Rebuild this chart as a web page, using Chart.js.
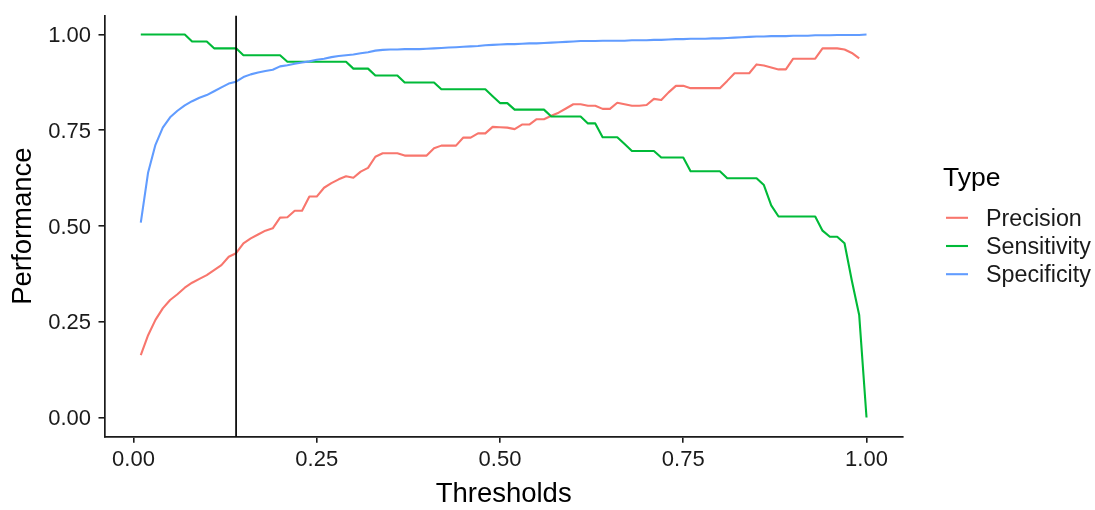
<!DOCTYPE html>
<html>
<head>
<meta charset="utf-8">
<script src="https://cdn.jsdelivr.net/npm/chart.js@4.4.1/dist/chart.umd.min.js"></script>
<style>
    html, body { margin: 0; padding: 0; background: #ffffff; }
</style>
</head>
<body>
<canvas id="perfChart" width="1095" height="510"></canvas>
<script>
// Thresholds on the x axis
const thresholds = [
    0.01, 0.02, 0.03, 0.04, 0.05, 0.06, 0.07, 0.08, 0.09, 0.10,
    0.11, 0.12, 0.13, 0.14, 0.15, 0.16, 0.17, 0.18, 0.19, 0.20,
    0.21, 0.22, 0.23, 0.24, 0.25, 0.26, 0.27, 0.28, 0.29, 0.30,
    0.31, 0.32, 0.33, 0.34, 0.35, 0.36, 0.37, 0.38, 0.39, 0.40,
    0.41, 0.42, 0.43, 0.44, 0.45, 0.46, 0.47, 0.48, 0.49, 0.50,
    0.51, 0.52, 0.53, 0.54, 0.55, 0.56, 0.57, 0.58, 0.59, 0.60,
    0.61, 0.62, 0.63, 0.64, 0.65, 0.66, 0.67, 0.68, 0.69, 0.70,
    0.71, 0.72, 0.73, 0.74, 0.75, 0.76, 0.77, 0.78, 0.79, 0.80,
    0.81, 0.82, 0.83, 0.84, 0.85, 0.86, 0.87, 0.88, 0.89, 0.90,
    0.91, 0.92, 0.93, 0.94, 0.95, 0.96, 0.97, 0.98, 0.99, 1.00,
];

const precision = [
    0.163, 0.215, 0.255, 0.285, 0.307, 0.322, 0.339, 0.352, 0.362, 0.372,
    0.385, 0.398, 0.420, 0.429, 0.455, 0.468, 0.478, 0.488, 0.494, 0.522,
    0.523, 0.540, 0.540, 0.577, 0.577, 0.600, 0.612, 0.622, 0.630, 0.626,
    0.642, 0.652, 0.681, 0.690, 0.690, 0.690, 0.684, 0.684, 0.684, 0.684,
    0.703, 0.710, 0.710, 0.710, 0.731, 0.731, 0.742, 0.742, 0.759, 0.758,
    0.757, 0.753, 0.765, 0.765, 0.779, 0.779, 0.788, 0.796, 0.807, 0.818,
    0.818, 0.814, 0.814, 0.806, 0.806, 0.822, 0.818, 0.814, 0.814, 0.816,
    0.832, 0.829, 0.849, 0.866, 0.866, 0.860, 0.860, 0.860, 0.860, 0.860,
    0.879, 0.899, 0.899, 0.899, 0.922, 0.919, 0.914, 0.909, 0.909, 0.937,
    0.937, 0.937, 0.937, 0.964, 0.964, 0.964, 0.961, 0.952, 0.938, null,
];

const sensitivity = [
    1.000, 1.000, 1.000, 1.000, 1.000, 1.000, 1.000, 0.982, 0.982, 0.982,
    0.964, 0.964, 0.964, 0.964, 0.946, 0.946, 0.946, 0.946, 0.946, 0.946,
    0.929, 0.929, 0.929, 0.929, 0.929, 0.929, 0.929, 0.929, 0.929, 0.911,
    0.911, 0.911, 0.893, 0.893, 0.893, 0.893, 0.875, 0.875, 0.875, 0.875,
    0.875, 0.857, 0.857, 0.857, 0.857, 0.857, 0.857, 0.857, 0.839, 0.821,
    0.821, 0.804, 0.804, 0.804, 0.804, 0.804, 0.786, 0.786, 0.786, 0.786,
    0.786, 0.768, 0.768, 0.732, 0.732, 0.732, 0.714, 0.696, 0.696, 0.696,
    0.696, 0.679, 0.679, 0.679, 0.679, 0.643, 0.643, 0.643, 0.643, 0.643,
    0.625, 0.625, 0.625, 0.625, 0.625, 0.607, 0.554, 0.525, 0.525, 0.525,
    0.525, 0.525, 0.525, 0.488, 0.472, 0.472, 0.455, 0.357, 0.268, 0.000,
];

const specificity = [
    0.509, 0.640, 0.712, 0.757, 0.784, 0.801, 0.815, 0.826, 0.835, 0.842,
    0.852, 0.862, 0.872, 0.877, 0.889, 0.896, 0.901, 0.905, 0.908, 0.917,
    0.920, 0.924, 0.927, 0.930, 0.934, 0.937, 0.941, 0.944, 0.946, 0.948,
    0.951, 0.954, 0.958, 0.960, 0.961, 0.961, 0.962, 0.962, 0.962, 0.963,
    0.964, 0.965, 0.966, 0.967, 0.968, 0.969, 0.970, 0.972, 0.973, 0.974,
    0.975, 0.975, 0.976, 0.977, 0.977, 0.978, 0.979, 0.980, 0.981, 0.982,
    0.983, 0.983, 0.983, 0.984, 0.984, 0.984, 0.984, 0.985, 0.985, 0.985,
    0.986, 0.986, 0.987, 0.988, 0.988, 0.989, 0.989, 0.989, 0.990, 0.990,
    0.991, 0.992, 0.993, 0.994, 0.995, 0.995, 0.996, 0.996, 0.996, 0.997,
    0.997, 0.997, 0.998, 0.998, 0.998, 0.999, 0.999, 0.999, 0.999, 1.000,
];

const seriesNames = ["Precision", "Sensitivity", "Specificity"];
const seriesColors = ["#F8766D", "#00BA38", "#619CFF"];
const tickValues = [0, 0.25, 0.5, 0.75, 1];
const tickLabels = ["0.00", "0.25", "0.50", "0.75", "1.00"];
const cutoff = 0.14;
const legendTitle = "Type";

const FONT = "'Liberation Sans', Arial, sans-serif";
const INK = "#1a1a1a";

const toPoints = (vals) => thresholds.map((t, i) => ({ x: t, y: vals[i] }));

const setTicks = (scale) => {
    scale.ticks = tickValues.map((v) => ({ value: v }));
};

/*
 * Legend drawn to the right, ggplot style */
const typeLegend = {
    id: "typeLegend",
    afterDraw(chart) {
        const { ctx } = chart;
        ctx.save();
        ctx.textBaseline = "middle";
        ctx.textAlign = "left";
        ctx.fillStyle = "#000000";
        ctx.font = "26.5px " + FONT;
        ctx.fillText(legendTitle, 943, 179);

        ctx.font = "23.3px " + FONT;
        seriesNames.forEach((name, i) => {
            const y = 217.8 + i * 28.2;
            ctx.strokeStyle = seriesColors[i];
            ctx.lineWidth = 2.1;
            ctx.beginPath();
            ctx.moveTo(946, y);
            ctx.lineTo(968, y);
            ctx.stroke();
            ctx.fillStyle = INK;
            ctx.fillText(name, 986, y + 1.5);
        });
        ctx.restore();
    },
};

const ctx = document.getElementById("perfChart");

new Chart(ctx, {
    type: "line",
    data: {
        datasets: [
            {
                label: "cutoff",
                data: [{ x: cutoff, y: -0.05 }, { x: cutoff, y: 1.05 }],
                borderColor: "#000000",
                borderWidth: 1.7,
                order: 0,
            },
            {
                label: seriesNames[2],
                data: toPoints(specificity),
                borderColor: seriesColors[2],
                order: 1,
            },
            {
                label: seriesNames[1],
                data: toPoints(sensitivity),
                borderColor: seriesColors[1],
                order: 2,
            },
            {
                label: seriesNames[0],
                data: toPoints(precision),
                borderColor: seriesColors[0],
                order: 3,
            },
        ],
    },
    options: {
        responsive: false,
        animation: false,
        devicePixelRatio: 1,
        layout: { padding: { top: 15.4, right: 192.2, left: 0, bottom: 0 } },
        elements: {
            point: { radius: 0 },
            line: { borderWidth: 2.1, tension: 0, borderJoinStyle: "round", fill: false },
        },
        plugins: {
            legend: { display: false },
            tooltip: { enabled: false },
        },
        scales: {
            x: {
                type: "linear",
                min: -0.0395,
                max: 1.0495,
                afterBuildTicks: setTicks,
                afterFit: (scale) => {
                    scale.height = 73.3;
                    scale.paddingLeft = 0;
                    scale.paddingRight = 0;
                },
                grid: { drawOnChartArea: false, drawTicks: true, tickLength: 6, color: INK, lineWidth: 1.6 },
                border: { display: true, color: INK, width: 1.7 },
                ticks: {
                    padding: 4.5,
                    color: INK,
                    font: { family: FONT, size: 22 },
                    maxRotation: 0,
                    callback: (v) => tickLabels[tickValues.indexOf(v)],
                },
                title: {
                    display: true,
                    text: "Thresholds",
                    color: "#000000",
                    font: { family: FONT, size: 27.5, lineHeight: 1 },
                    padding: { top: 0, bottom: 1.5 },
                },
            },
            y: {
                min: -0.05,
                max: 1.05,
                afterBuildTicks: setTicks,
                afterFit: (scale) => {
                    scale.width = 104.5;
                    scale.paddingTop = 0;
                    scale.paddingBottom = 0;
                },
                grid: { drawOnChartArea: false, drawTicks: true, tickLength: 6, color: INK, lineWidth: 1.6 },
                border: { display: true, color: INK, width: 1.7 },
                ticks: {
                    padding: 7.5,
                    labelOffset: 1.5,
                    color: INK,
                    font: { family: FONT, size: 22 },
                    callback: (v) => tickLabels[tickValues.indexOf(v)],
                },
                title: {
                    display: true,
                    text: "Performance",
                    color: "#000000",
                    font: { family: FONT, size: 27.5, lineHeight: 1 },
                    padding: { top: 10, bottom: 0 },
                },
            },
        },
    },
    plugins: [typeLegend],
});
</script>
</body>
</html>
